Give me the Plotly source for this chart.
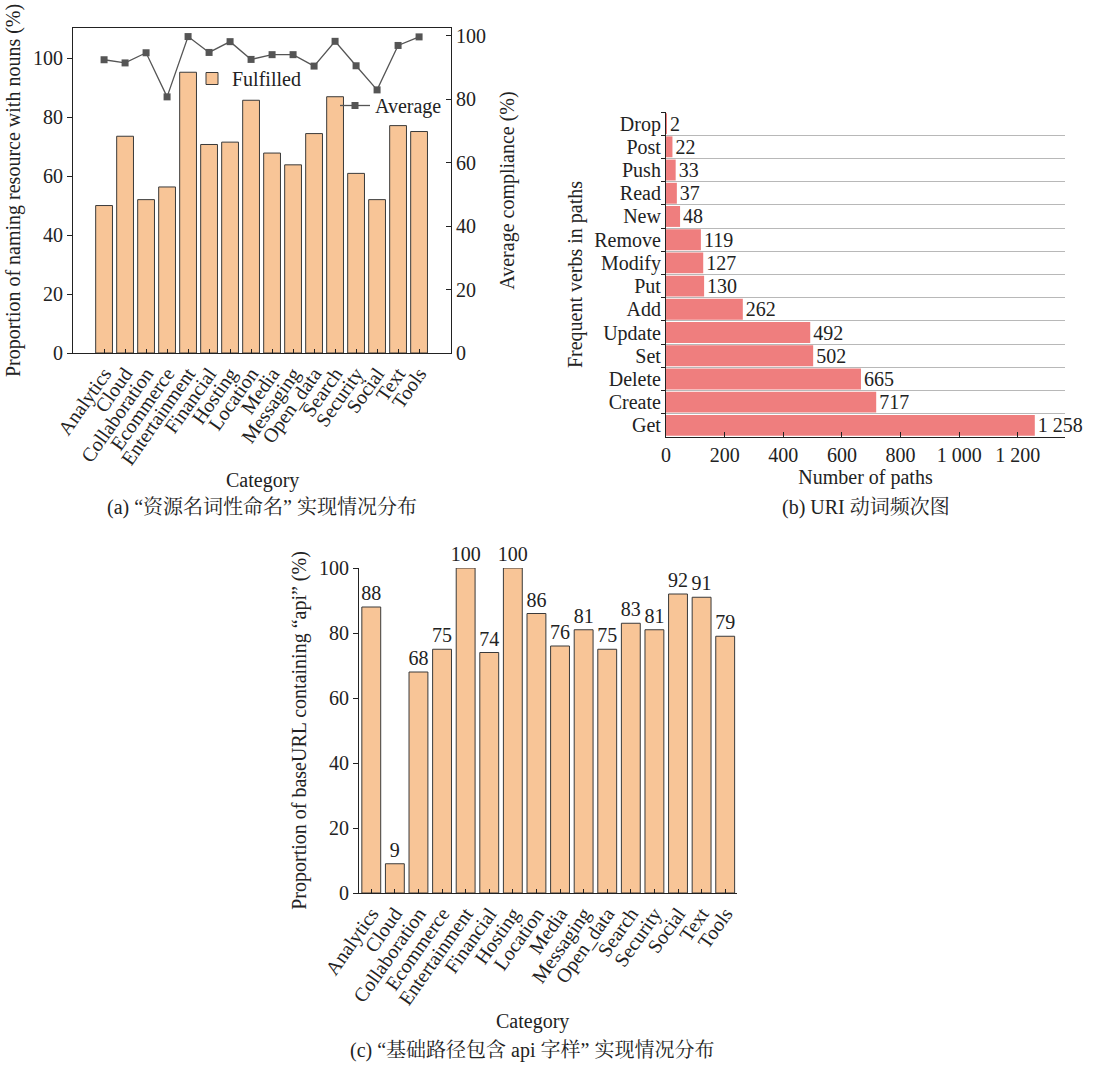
import plotly.graph_objects as go

# ---------------- data ----------------
categories = ["Analytics", "Cloud", "Collaboration", "Ecommerce", "Entertainment",
              "Financial", "Hosting", "Location", "Media", "Messaging", "Open_data",
              "Search", "Security", "Social", "Text", "Tools"]

# (a) resource naming with nouns
fulfilled_pct = [50.0, 73.5, 52.0, 56.3, 95.2, 70.7, 71.5, 85.7, 67.8, 63.8, 74.4,
                 86.9, 60.9, 52.0, 77.1, 75.1]
average_pct = [92.4, 91.4, 94.6, 80.7, 99.7, 94.7, 98.1, 92.5, 94.0, 94.0, 90.4,
               98.2, 90.5, 82.9, 96.9, 99.6]

# (b) frequent verbs in URI paths (bottom to top)
verbs = ["Get", "Create", "Delete", "Set", "Update", "Add", "Put", "Modify",
         "Remove", "New", "Read", "Push", "Post", "Drop"]
verb_counts = [1258, 717, 665, 502, 492, 262, 130, 127, 119, 48, 37, 33, 22, 2]
path_ticks = [0, 200, 400, 600, 800, 1000, 1200]

# (c) base URL containing "api"
api_pct = [88, 9, 68, 75, 100, 74, 100, 86, 76, 81, 75, 83, 81, 92, 91, 79]


def spaced(n):
    return f"{n:,}".replace(",", " ")


SERIF = "Liberation Serif, Times New Roman, serif"
CJK = "Liberation Serif, Noto Serif CJK SC, Noto Sans CJK SC, serif"
INK = "#222222"
PEACH = "#F8C597"
EDGE = "#3a3a3a"
CORAL = "#EF7E7E"
FS = 20

W, H = 1105, 1065


def px_x(p):
    return p / W


def px_y(p):
    return 1 - p / H


fig = go.Figure()

# ---------------- (a) ----------------
fig.add_trace(go.Bar(
    x=categories, y=fulfilled_pct, name="Fulfilled",
    marker=dict(color=PEACH, line=dict(color=EDGE, width=1)),
    width=0.8, xaxis="x", yaxis="y", legend="legend",
))
fig.add_trace(go.Scatter(
    x=categories, y=average_pct, name="Average", mode="lines+markers",
    line=dict(color="#555555", width=1.3),
    marker=dict(symbol="square", size=7, color="#555555"),
    xaxis="x", yaxis="y2", legend="legend2",
))

# ---------------- (b) ----------------
fig.add_trace(go.Bar(
    x=verb_counts, y=verbs, orientation="h",
    marker=dict(color=CORAL, line=dict(width=0)),
    width=0.9, text=[spaced(v) for v in verb_counts],
    textposition="outside", cliponaxis=False, constraintext="none",
    textfont=dict(family=SERIF, size=FS, color=INK),
    xaxis="x3", yaxis="y3", showlegend=False,
))

# ---------------- (c) ----------------
fig.add_trace(go.Bar(
    x=categories, y=api_pct,
    marker=dict(color=PEACH, line=dict(color=EDGE, width=1)),
    width=0.8, text=[str(v) for v in api_pct],
    textposition="outside", cliponaxis=False, constraintext="none",
    textfont=dict(family=SERIF, size=FS, color=INK),
    xaxis="x4", yaxis="y4", showlegend=False,
))

axis_common = dict(zeroline=False, showline=True, linecolor=INK,
                   linewidth=1.2, tickcolor=INK, automargin=False,
                   tickfont=dict(family=SERIF, size=FS, color=INK),
                   title_font=dict(family=SERIF, size=FS, color=INK))

cat_axis = dict(type="category", categoryorder="array", categoryarray=categories,
                tickmode="array", tickvals=categories,
                tickangle=-55, ticks="inside", ticklen=4, showgrid=False)

fig.update_layout(
    width=W, height=H, margin=dict(l=0, r=0, t=0, b=0),
    paper_bgcolor="white", plot_bgcolor="white",
    bargap=0.2,
    font=dict(family=SERIF, size=FS, color=INK),
    # (a)
    xaxis=dict(**axis_common, **cat_axis, domain=[px_x(73), px_x(451)],
               range=[-1.48, 16.52], anchor="y", mirror=True),
    yaxis=dict(**axis_common, showgrid=False, domain=[px_y(353), px_y(28)], range=[0, 110.2],
               tickvals=[0, 20, 40, 60, 80, 100], ticks="outside", ticklen=5,
               anchor="x",
               title=dict(text="Proportion of naming resource with nouns (%)", standoff=6)),
    yaxis2=dict(**axis_common, showgrid=False, overlaying="y", side="right", range=[0, 102.4],
                tickvals=[0, 20, 40, 60, 80, 100], ticks="inside", ticklen=5,
                anchor="x",
                title=dict(text="Average compliance (%)", standoff=14)),
    # (b)
    xaxis3=dict(**axis_common, showgrid=False, domain=[px_x(666), px_x(1065)], range=[0, 1361],
                tickvals=path_ticks, ticktext=[spaced(v) for v in path_ticks],
                ticks="inside", ticklen=5, anchor="y3",
                title=dict(text="Number of paths", standoff=2)),
    yaxis3=dict(**axis_common, domain=[px_y(437), px_y(112)],
                type="category", categoryorder="array", categoryarray=verbs,
                tickmode="array", tickvals=verbs,
                range=[-0.5, 13.5], tickson="boundaries", ticks="outside", ticklen=4,
                showgrid=True, gridcolor="#b8b8b8", gridwidth=1,
                anchor="x3",
                title=dict(text="Frequent verbs in paths", standoff=6)),
    # (c)
    xaxis4=dict(**axis_common, **cat_axis, domain=[px_x(359), px_x(737)],
                range=[-0.52, 15.5], anchor="y4"),
    yaxis4=dict(**axis_common, showgrid=False, domain=[px_y(893), px_y(568)], range=[0, 100],
                tickvals=[0, 20, 40, 60, 80, 100], ticks="outside", ticklen=5,
                anchor="x4",
                title=dict(text="Proportion of baseURL containing “api” (%)", standoff=6)),
    legend=dict(x=px_x(192), y=px_y(59), xanchor="left", yanchor="top",
                bgcolor="rgba(0,0,0,0)", font=dict(family=SERIF, size=FS, color=INK),
                itemwidth=30),
    legend2=dict(x=px_x(335), y=px_y(86), xanchor="left", yanchor="top",
                 bgcolor="rgba(0,0,0,0)", font=dict(family=SERIF, size=FS, color=INK),
                 itemwidth=30),
)

# axis titles and captions below each panel
notes = [
    (262, 480, "Category", SERIF),
    (262, 508, "(a) “资源名词性命名” 实现情况分布", CJK),
    (866, 508, "(b) URI 动词频次图", CJK),
    (532, 1021, "Category", SERIF),
    (532, 1050, "(c) “基础路径包含 api 字样” 实现情况分布", CJK),
]
for x, y, txt, fam in notes:
    fig.add_annotation(x=px_x(x), y=px_y(y), xref="paper", yref="paper",
                       text=txt, showarrow=False, xanchor="center", yanchor="middle",
                       font=dict(family=fam, size=FS, color=INK))

fig.write_html("out.html")
